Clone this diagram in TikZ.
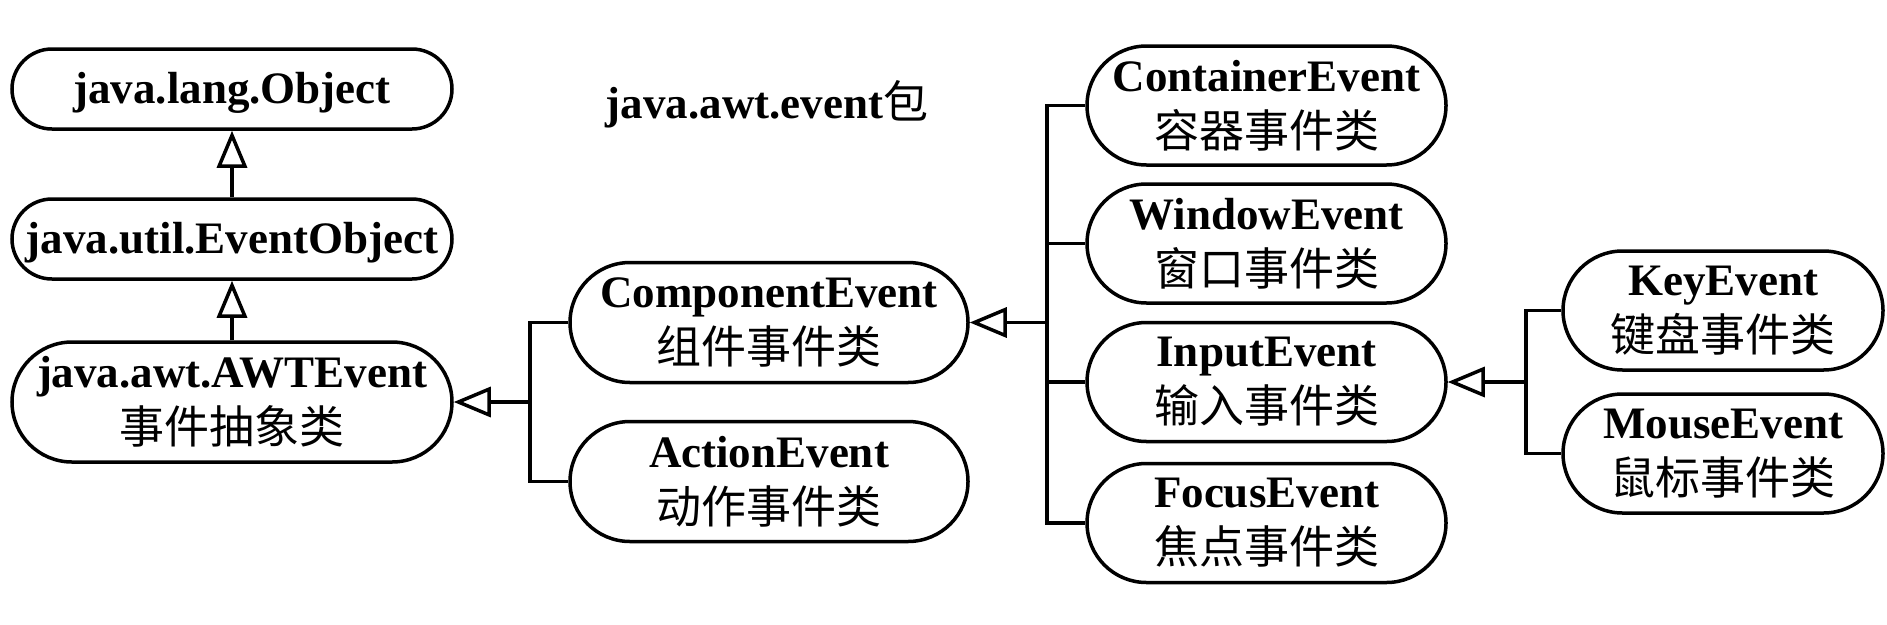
\documentclass[tikz,border=0pt]{standalone}
\usepackage{fontspec}
\setmainfont{Liberation Serif}
\newfontfamily\cjk[Scale=1.0]{Noto Sans CJK SC}
\usetikzlibrary{shapes.misc,arrows.meta}
\begin{document}
\begin{tikzpicture}[x=1pt,y=-1pt,
  line join=miter,
  cls/.style={draw, line width=3.5pt, rounded rectangle, inner sep=0pt, align=center,
    font=\fontsize{45}{56}\selectfont\bfseries, minimum height=#1},
  cls/.default=120pt,
  one/.style={text height=31pt, text depth=3pt},
  conn/.style={line width=3.5pt},
  tri/.style={conn, -{Triangle[open,length=37pt,width=30pt,line width=3.5pt]}}
]
\useasboundingbox (0,0) rectangle (1887,624);

% left column
\node[cls=80pt, one, minimum width=440pt] (obj) at (232,89) {java.lang.Object};
\node[cls=80pt, one, minimum width=440pt] (evo) at (232,239) {java.util.EventObject};
\node[cls=120pt, minimum width=440pt] (awt) at (232,402) {java.awt.AWTEvent\\{\cjk\mdseries 事件抽象类}};

% title
\node[font=\fontsize{45}{54}\selectfont\bfseries, anchor=base] (title) at (767,118) {java.awt.event{\cjk\mdseries 包}};

% second column
\node[cls=120pt, minimum width=398pt] (comp) at (769,322.5) {ComponentEvent\\{\cjk\mdseries 组件事件类}};
\node[cls=120pt, minimum width=398pt] (act) at (769,481.5) {ActionEvent\\{\cjk\mdseries 动作事件类}};

% third column
\node[cls=119pt, minimum width=359pt] (cont) at (1266.5,105.5) {ContainerEvent\\{\cjk\mdseries 容器事件类}};
\node[cls=119pt, minimum width=359pt] (win) at (1266.5,243.5) {WindowEvent\\{\cjk\mdseries 窗口事件类}};
\node[cls=119pt, minimum width=359pt] (inp) at (1266.5,382) {InputEvent\\{\cjk\mdseries 输入事件类}};
\node[cls=119pt, minimum width=359pt] (foc) at (1266.5,523) {FocusEvent\\{\cjk\mdseries 焦点事件类}};

% fourth column
\node[cls=119pt, minimum width=320pt] (key) at (1723,310.5) {KeyEvent\\{\cjk\mdseries 键盘事件类}};
\node[cls=119pt, minimum width=320pt] (mouse) at (1723,453.5) {MouseEvent\\{\cjk\mdseries 鼠标事件类}};

% junctions
\coordinate (j1) at (530,402);
\coordinate (j2) at (1047,322.5);
\coordinate (j3) at (1526,382);

% connectors
\draw[tri] (evo.north) -- (obj.south);
\draw[tri] (awt.north) -- (evo.south);

\draw[conn] (comp.west) -| (j1) |- (act.west);
\draw[tri] (j1) -- (awt.east);

\draw[conn] (cont.west) -| (j2) |- (foc.west);
\draw[conn] (win.west) -- (win.west -| j2);
\draw[conn] (inp.west) -- (inp.west -| j2);
\draw[tri] (j2) -- (comp.east);

\draw[conn] (key.west) -| (j3) |- (mouse.west);
\draw[tri] (j3) -- (inp.east);
\end{tikzpicture}
\end{document}
